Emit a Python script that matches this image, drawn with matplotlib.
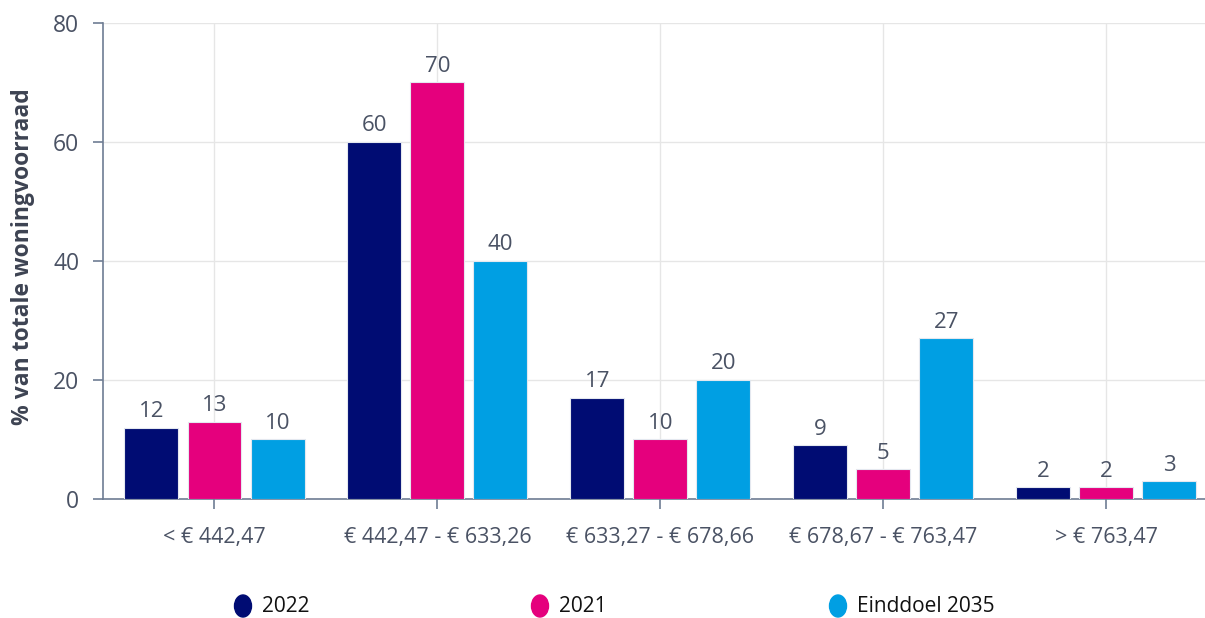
import numpy as np
import matplotlib.pyplot as plt
from matplotlib.patches import Ellipse

plt.rcParams['font.family'] = ['Open Sans', 'DejaVu Sans']

# data
categories = ['< € 442,47', '€ 442,47 - € 633,26', '€ 633,27 - € 678,66',
              '€ 678,67 - € 763,47', '> € 763,47']
series_names = ['2022', '2021', 'Einddoel 2035']
vals_2022 = [12, 60, 17, 9, 2]
vals_2021 = [13, 70, 10, 5, 2]
vals_2035 = [10, 40, 20, 27, 3]
colors = ['#000C73', '#E5007D', '#009FE3']

text_col = '#4A5264'
axis_col = '#6E7D93'

fig = plt.figure(figsize=(12.05, 6.18), dpi=100)
ax = fig.add_axes([0.0855, 0.1926, 0.9249, 0.7702])

x = np.arange(len(categories))
width = 0.242
offset = 0.283

for i, (vals, col) in enumerate(zip([vals_2022, vals_2021, vals_2035], colors)):
    pos = x + (i - 1) * offset
    bars = ax.bar(pos, vals, width=width, color=col, edgecolor='#e4e8ef',
                  linewidth=0.8, zorder=3)
    for b, v in zip(bars, vals):
        ax.annotate(str(v), (b.get_x() + b.get_width() / 2, v),
                    xytext=(0, 4), textcoords='offset points',
                    ha='center', va='bottom', fontsize=16, color=text_col)

ax.set_xlim(-0.5, len(categories) - 0.5)
ax.set_ylim(0, 80)
ax.set_yticks([0, 20, 40, 60, 80])
ax.set_xticks(x)
ax.set_xticklabels(categories)

ax.grid(True, color='#e6e6e6', linewidth=1, zorder=0)
ax.set_axisbelow(True)

for s in ['top', 'right']:
    ax.spines[s].set_visible(False)
for s in ['left', 'bottom']:
    ax.spines[s].set_color(axis_col)
    ax.spines[s].set_linewidth(1.2)

ax.tick_params(axis='y', length=7, width=1.2, color=axis_col, pad=10,
               labelsize=16.5, labelcolor=text_col)
ax.tick_params(axis='x', length=7, width=1.2, color=axis_col, pad=13,
               labelsize=15.5, labelcolor=text_col)

fig.text(0.019, 0.585, '% van totale woningvoorraad', rotation=90,
         ha='center', va='center', fontsize=16.5, fontweight='bold',
         color='#3D4352')

# legend along the bottom
leg_x = [243, 540, 838]
for lx, name, col in zip(leg_x, series_names, colors):
    fig.patches.append(Ellipse((lx / 1205, 1 - 606 / 618), 17 / 1205, 22 / 618,
                               transform=fig.transFigure, color=col,
                               figure=fig))
    fig.text((lx + 19) / 1205, 1 - 606 / 618, name, ha='left', va='center',
             fontsize=15, color='#111111')

plt.savefig('out.png', dpi=100)
